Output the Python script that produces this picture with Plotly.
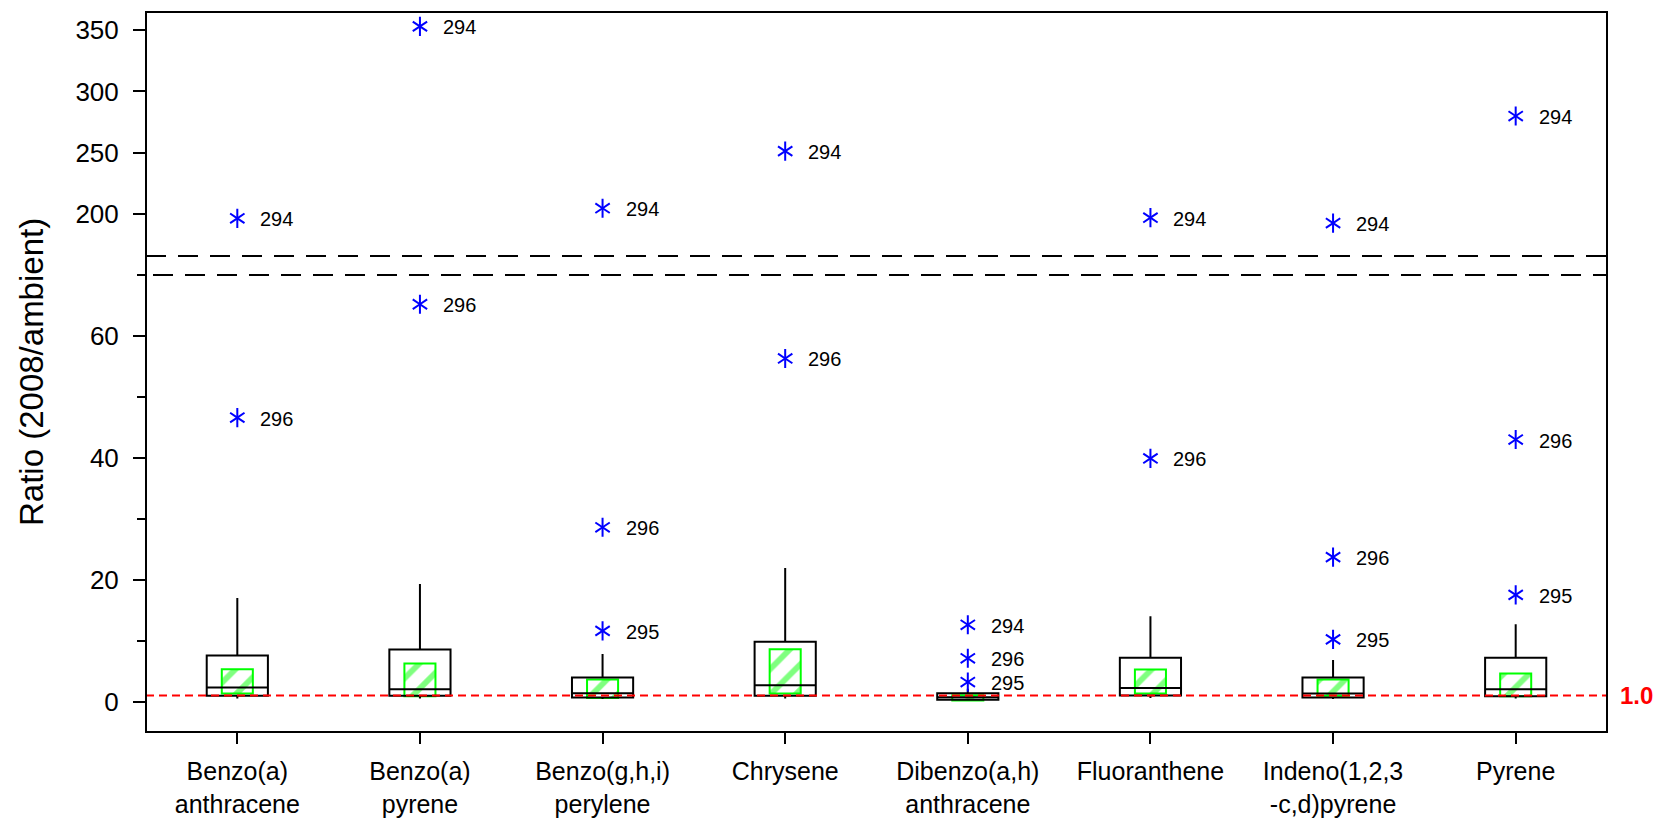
import plotly.graph_objects as go

# Compounds on the x axis (line breaks as drawn under the ticks)
categories = [
    "Benzo(a)<br>anthracene", "Benzo(a)<br>pyrene", "Benzo(g,h,i)<br>perylene",
    "Chrysene", "Dibenzo(a,h)<br>anthracene", "Fluoranthene",
    "Indeno(1,2,3<br>-c,d)pyrene", "Pyrene",
]

# Box statistics of the 2008/ambient ratio for each compound
q1 = [0.93, 0.93, 0.66, 0.93, 0.28, 0.98, 0.66, 0.87]
median = [2.30, 2.02, 1.36, 2.67, 0.70, 2.24, 1.31, 2.02]
q3 = [7.54, 8.52, 3.93, 9.80, 1.36, 7.20, 3.93, 7.20]
whisker_low = [0.50, 0.50, 0.40, 0.50, 0.20, 0.60, 0.40, 0.50]
whisker_high = [17.0, 19.3, 7.8, 21.9, 2.1, 14.0, 6.8, 12.7]

# Confidence interval of the median
ci_low = [1.31, 0.87, 0.60, 1.31, 0.16, 1.31, 0.93, 0.87]
ci_high = [5.30, 6.23, 3.60, 8.60, 1.03, 5.25, 3.60, 4.60]

# Outliers: compound index, ratio, sample id
outlier_cat = [0, 0, 1, 1, 2, 2, 2, 3, 3, 4, 4, 4, 5, 5, 6, 6, 6, 7, 7, 7]
outlier_val = [196.7, 46.6, 353.0, 65.2, 204.9, 28.6, 11.6, 251.4, 56.3,
               12.6, 7.1, 3.2, 197.2, 39.9, 192.8, 23.7, 10.2, 280.0, 43.0, 17.5]
outlier_id = ["294", "296", "294", "296", "294", "296", "295", "294", "296",
              "294", "296", "295", "294", "296", "294", "296", "295", "294", "296", "295"]

reference_ratio = 1.0

# Broken y axis: lower and upper value ranges
low_range = [-5, 70]
high_range = [166, 364.7]
low_ticks = [0, 20, 40, 60]
low_minor = [10, 30, 50, 70]
high_ticks = [200, 250, 300, 350]

FONT = "Liberation Sans, Arial, sans-serif"
x_pos = list(range(len(categories)))

# plot area geometry (pixels)
W, H = 1658, 819
L, R, T, B = 146, 51, 12, 87
plot_h = H - T - B
plot_w = W - L - R
low_top = (732 - 275) / plot_h
high_bottom = (732 - 256) / plot_h

fig = go.Figure()

# median confidence-interval boxes (hatched green)
fig.add_trace(go.Bar(
    x=x_pos, y=[h - l for l, h in zip(ci_low, ci_high)], base=ci_low,
    width=0.17,
    marker=dict(color="rgba(0,0,0,0)",
                line=dict(color="#00ff00", width=2),
                pattern=dict(shape="/", fgcolor="#00ff00", size=18, solidity=0.32)),
    xaxis="x", yaxis="y", hoverinfo="skip",
))

# box plots
fig.add_trace(go.Box(
    x=x_pos, q1=q1, median=median, q3=q3,
    lowerfence=whisker_low, upperfence=whisker_high,
    width=0.335, whiskerwidth=0,
    fillcolor="rgba(0,0,0,0)", line=dict(color="black", width=2),
    boxpoints=False, xaxis="x", yaxis="y",
))

# outliers split between the two axis segments
low_cut = low_range[1]
for seg_axis, keep in (("y", lambda v: v <= low_cut), ("y2", lambda v: v > low_cut)):
    xs = [c for c, v in zip(outlier_cat, outlier_val) if keep(v)]
    ys = [v for v in outlier_val if keep(v)]
    for sym in ("y-up-open", "y-down-open"):
        fig.add_trace(go.Scatter(
            x=xs, y=ys, mode="markers", xaxis="x", yaxis=seg_axis,
            marker=dict(symbol=sym, size=12, color="blue",
                        line=dict(color="blue", width=2)),
            hoverinfo="skip",
        ))

annotations = []
for c, v, lab in zip(outlier_cat, outlier_val, outlier_id):
    annotations.append(dict(
        x=c, y=v, xref="x", yref="y" if v <= low_cut else "y2",
        text=lab, showarrow=False, xanchor="left", yanchor="middle",
        xshift=21, yshift=-1, font=dict(family=FONT, size=20, color="black"),
    ))

annotations.append(dict(
    x=1, y=reference_ratio, xref="paper", yref="y", text="<b>1.0</b>",
    showarrow=False, xanchor="left", yanchor="middle", xshift=11,
    font=dict(family=FONT, size=24, color="red"),
))
annotations.append(dict(
    x=(31 - L) / plot_w, y=0.5, xref="paper", yref="paper",
    text="Ratio (2008/ambient)", textangle=-90, showarrow=False,
    xanchor="center", yanchor="middle",
    font=dict(family=FONT, size=33, color="black"),
))

shapes = [
    # scale-break markers
    dict(type="line", xref="paper", yref="paper", x0=0, x1=1,
         y0=high_bottom, y1=high_bottom,
         line=dict(color="black", width=2, dash="20px,12px")),
    dict(type="line", xref="paper", yref="paper", x0=7 / plot_w, x1=1,
         y0=low_top, y1=low_top,
         line=dict(color="black", width=2, dash="20px,12px")),
    # reference ratio line
    dict(type="line", xref="paper", yref="y", x0=0, x1=1,
         y0=reference_ratio, y1=reference_ratio,
         line=dict(color="red", width=2, dash="8px,5px")),
    # frame
    dict(type="rect", xref="paper", yref="paper", x0=0, x1=1, y0=0, y1=1,
         line=dict(color="black", width=2)),
]

axis_common = dict(showgrid=False, zeroline=False, showline=False,
                   automargin=False,
                   ticks="outside", tickwidth=2, tickcolor="black",
                   tickfont=dict(family=FONT, size=26, color="black"))

fig.update_layout(
    width=W, height=H,
    margin=dict(l=L, r=R, t=T, b=B, autoexpand=False),
    plot_bgcolor="white", paper_bgcolor="white",
    showlegend=False, barmode="overlay",
    font=dict(family=FONT, color="black"),
    xaxis=dict(range=[-0.5, len(categories) - 0.5], tickmode="array",
               tickvals=x_pos, ticktext=categories, ticklen=11,
               ticklabelstandoff=6,
               **{**axis_common,
                  "tickfont": dict(family=FONT, size=25, color="black")}),
    yaxis=dict(domain=[0, low_top], range=low_range, tickmode="array",
               tickvals=low_ticks, ticklen=12, ticklabelstandoff=9,
               minor=dict(tickmode="array", tickvals=low_minor, ticks="outside",
                          ticklen=8, tickwidth=2, tickcolor="black"),
               **axis_common),
    yaxis2=dict(domain=[high_bottom, 1], range=high_range, tickmode="array",
                tickvals=high_ticks, ticklen=12, anchor="x", ticklabelstandoff=9,
                **axis_common),
    shapes=shapes,
    annotations=annotations,
)

fig.write_html("out.html")
